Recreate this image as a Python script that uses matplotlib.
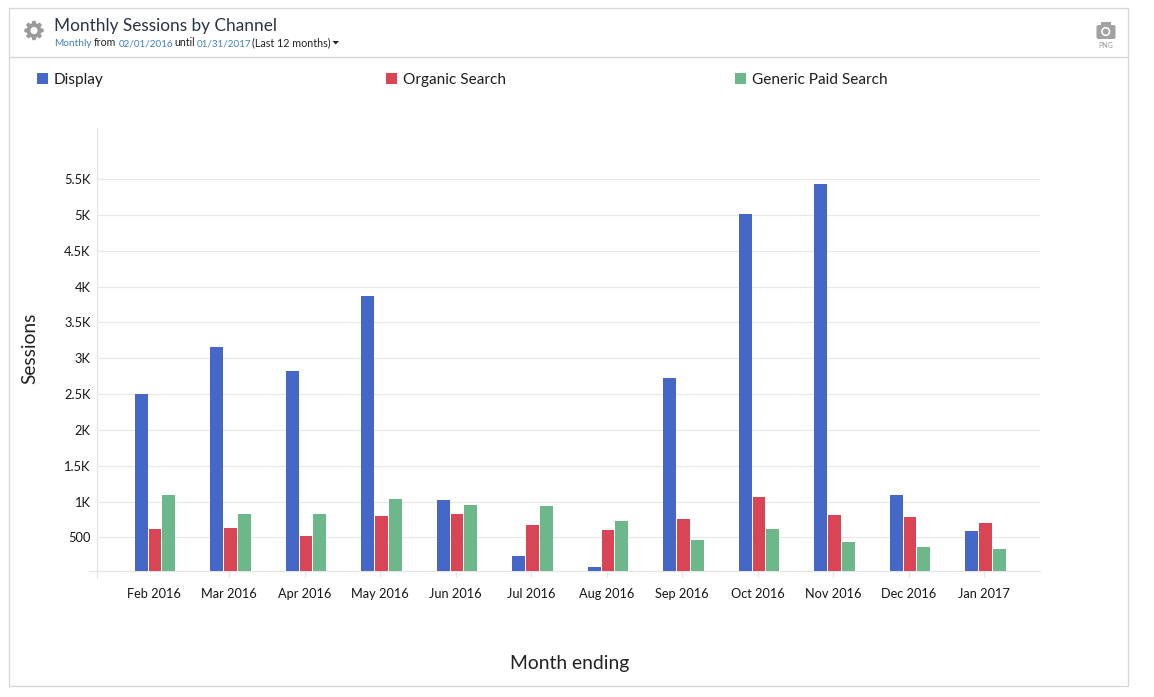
import numpy as np
import matplotlib
matplotlib.use("Agg")
import matplotlib.pyplot as plt
from matplotlib.patches import Rectangle, Circle, FancyBboxPatch, Polygon

months = ["Feb 2016", "Mar 2016", "Apr 2016", "May 2016", "Jun 2016", "Jul 2016",
          "Aug 2016", "Sep 2016", "Oct 2016", "Nov 2016", "Dec 2016", "Jan 2017"]
display = [2500, 3163, 2828, 3868, 1021, 240, 80, 2717, 5012, 5437, 1091, 582]
organic = [617, 631, 519, 798, 826, 673, 603, 756, 1063, 819, 784, 707]
paid = [1091, 826, 826, 1035, 952, 938, 728, 470, 617, 435, 366, 338]
series_names = ["Display", "Organic Search", "Generic Paid Search"]
colors = ["#4567C8", "#D94555", "#6DB88A"]
y_ticks = [500, 1000, 1500, 2000, 2500, 3000, 3500, 4000, 4500, 5000, 5500]
y_labels = ["500", "1K", "1.5K", "2K", "2.5K", "3K", "3.5K", "4K", "4.5K", "5K", "5.5K"]

W, H = 1154, 697
plt.rcParams["font.family"] = ["Lato", "DejaVu Sans"]
fig = plt.figure(figsize=(W / 100, H / 100), dpi=100, facecolor="white")

# page furniture, in pixel coordinates
bg = fig.add_axes([0, 0, 1, 1])
bg.set_xlim(0, W)
bg.set_ylim(H, 0)
bg.axis("off")
line = "#D6D6D6"
bg.plot([9.2, 1128.2, 1128.2, 9.2, 9.2], [7.8, 7.8, 686.2, 686.2, 7.8], color=line, lw=0.9)
bg.plot([9.2, 1128.2], [56.8, 56.8], color=line, lw=0.9)

# gear icon
gx, gy = 34, 30.5
pts = []
n_teeth = 8
for k in range(n_teeth):
    a = 2 * np.pi * k / n_teeth
    for da, r in [(-0.30, 7.4), (-0.17, 9.8), (0.17, 9.8), (0.30, 7.4)]:
        pts.append((gx + r * np.cos(a + da), gy + r * np.sin(a + da)))
bg.add_patch(Polygon(pts, closed=True, color="#9A9A9A", lw=0))
bg.add_patch(Circle((gx, gy), 3.6, color="white", lw=0))

# camera icon
bg.add_patch(FancyBboxPatch((1096.5, 25), 19, 14, boxstyle="round,pad=0,rounding_size=2", color="#A2A2A2", lw=0))
bg.add_patch(Rectangle((1100.5, 22), 10, 4, color="#A2A2A2", lw=0))
bg.add_patch(Circle((1105.7, 31.5), 4.6, color="white", lw=0))
bg.add_patch(Circle((1105.7, 31.5), 3, color="#A2A2A2", lw=0))
bg.text(1105.7, 45, "PNG", fontsize=5, color="#9A9A9A", ha="center", va="center")

# header
bg.text(54, 31, "Monthly Sessions by Channel", fontsize=12.4, color="#2B3440", ha="left", va="baseline")
sub = [("Monthly", "#3F7FBF"), ("from", "#222222"), ("02/01/2016", "#3F7FBF"), ("until", "#222222"),
       ("01/31/2017", "#3F7FBF"), ("(Last 12 months)", "#222222")]
sub_x = [54, 94, 119, 174, 197, 252]
sub_size = [7.3, 7.6, 7.1, 7.6, 7.1, 7.75]
for (t, c), x, fs in zip(sub, sub_x, sub_size):
    bg.text(x, 46.5, t, fontsize=fs, color=c, ha="left", va="baseline")
bg.fill([332.5, 339, 335.75], [41, 41, 44.5], color="#222222", lw=0)

# legend
for name, c, sx in zip(series_names, colors, [37, 386, 735]):
    bg.add_patch(Rectangle((sx, 73), 11, 11, color=c, lw=0))
    bg.text(sx + 17, 84, name, fontsize=11.05, color="#1E1E1E", ha="left", va="baseline")

# chart
x0, x1, ytop, ybot = 97.2, 1040, 128, 570.8
ax = fig.add_axes([x0 / W, 1 - ybot / H, (x1 - x0) / W, (ybot - ytop) / H])
ax.patch.set_alpha(0)
ax.set_xlim((x0 - 155) / 75.5, (x1 - 155) / 75.5)
ax.set_ylim(33.5, 6212)
x = np.arange(len(months))
bw = 12.7 / 75.5
step = 13.7 / 75.5
for i, (vals, c) in enumerate(zip([display, organic, paid], colors)):
    ax.bar(x + (i - 1) * step, vals, width=bw, color=c, zorder=3, lw=0, label=series_names[i])

for s in ["top", "right"]:
    ax.spines[s].set_visible(False)
for s in ["left", "bottom"]:
    ax.spines[s].set_color("#E6E6E6")
    ax.spines[s].set_linewidth(0.9)
ax.set_yticks(y_ticks, y_labels)
ax.set_xticks(x - 0.017, months)
ax.grid(axis="y", color="#E9E9E9", lw=0.9, zorder=0)
ax.set_axisbelow(True)
ax.tick_params(axis="y", length=0, pad=4.8, labelsize=9.3, labelcolor="#161616")
ax.tick_params(axis="x", length=4.4, width=0.9, color="#E6E6E6", pad=15.3, labelsize=9.2, labelcolor="#161616")
for lab in ax.get_xticklabels():
    lab.set_va("baseline")
ax.xaxis.get_major_ticks()[0].tick1line.set_visible(False)
# small extensions of the axis lines past the corner
bg.plot([97.2, 97.2], [570, 578], color="#E6E6E6", lw=0.9)
bg.plot([89, 97.2], [570.8, 570.8], color="#E6E6E6", lw=0.9)

bg.text(29.5, 348.5, "Sessions", fontsize=13.8, color="#222222", rotation=90, ha="center", va="center")
bg.text(569.5, 669, "Month ending", fontsize=13.85, color="#222222", ha="center", va="baseline")

fig.savefig("out.png", dpi=100)
